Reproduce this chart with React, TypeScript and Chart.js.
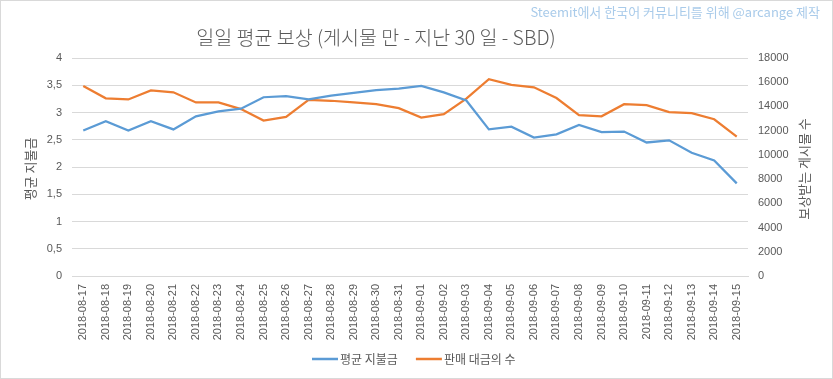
import React, { useEffect, useRef } from "react";
import { Chart, registerables } from "chart.js";

Chart.register(...registerables);

const categories = [
  "2018-08-17", "2018-08-18", "2018-08-19", "2018-08-20", "2018-08-21",
  "2018-08-22", "2018-08-23", "2018-08-24", "2018-08-25", "2018-08-26",
  "2018-08-27", "2018-08-28", "2018-08-29", "2018-08-30", "2018-08-31",
  "2018-09-01", "2018-09-02", "2018-09-03", "2018-09-04", "2018-09-05",
  "2018-09-06", "2018-09-07", "2018-09-08", "2018-09-09", "2018-09-10",
  "2018-09-11", "2018-09-12", "2018-09-13", "2018-09-14", "2018-09-15",
];

const avgPayout = [
  2.67, 2.84, 2.67, 2.84, 2.69, 2.93, 3.02, 3.07, 3.28, 3.30,
  3.24, 3.31, 3.36, 3.41, 3.44, 3.49, 3.37, 3.22, 2.69, 2.74,
  2.54, 2.60, 2.77, 2.64, 2.65, 2.45, 2.49, 2.26, 2.12, 1.70,
];

const postCount = [
  15690, 14670, 14580, 15330, 15170, 14330, 14330, 13780, 12830, 13140,
  14550, 14470, 14330, 14190, 13860, 13080, 13360, 14640, 16250, 15780,
  15580, 14690, 13280, 13190, 14190, 14110, 13530, 13440, 12940, 11500,
];

const titleText = "일일 평균 보상 (게시물 만 - 지난 30 일 - SBD)";
const watermarkText = "Steemit에서 한국어 커뮤니티를 위해 @arcange 제작";
const seriesNames = ["평균 지불금", "판매 대금의 수"];
const leftAxisTitle = "평균 지불금";
const rightAxisTitle = "보상받는 게시물 수";

const BLUE = "#5B9BD5";
const ORANGE = "#ED7D31";
const TEXT = "#595959";
const GRID = "#d9d9d9";
const FONT = "'Liberation Sans', 'Noto Sans CJK KR', sans-serif";
const KFONT = "'Noto Sans CJK KR', 'Liberation Sans', sans-serif";

const decorPlugin = {
  id: "decor",
  beforeDraw(chart: any) {
    const { ctx, width, height } = chart;
    ctx.save();
    ctx.fillStyle = "#ffffff";
    ctx.fillRect(0, 0, width, height);
    ctx.restore();
  },
  afterDraw(chart: any) {
    const { ctx, width, height, chartArea } = chart;
    ctx.save();
    ctx.strokeStyle = GRID;
    ctx.lineWidth = 1;
    ctx.strokeRect(0.5, 0.5, width - 1, height - 1);

    // title
    ctx.fillStyle = TEXT;
    ctx.font = `300 19.5px ${KFONT}`;
    ctx.textAlign = "center";
    ctx.textBaseline = "middle";
    ctx.fillText(titleText, 376, 38);

    // watermark
    ctx.fillStyle = "#A9CBEA";
    ctx.font = `13px ${KFONT}`;
    ctx.textAlign = "right";
    ctx.fillText(watermarkText, 820, 12);

    const cy = (chartArea.top + chartArea.bottom) / 2;
    ctx.fillStyle = TEXT;
    ctx.font = `13px ${KFONT}`;
    ctx.textAlign = "center";

    // left axis title
    ctx.save();
    ctx.translate(30, cy + 2);
    ctx.rotate(-Math.PI / 2);
    ctx.fillText(leftAxisTitle, 0, 0);
    ctx.restore();

    // right axis title
    ctx.save();
    ctx.translate(804, cy + 2);
    ctx.rotate(-Math.PI / 2);
    ctx.fillText(rightAxisTitle, 0, 0);
    ctx.restore();

    // legend
    const ly = 359;
    const items = chart.data.datasets.map((d: any) => ({ label: d.label, color: d.borderColor }));
    ctx.font = `12px ${KFONT}`;
    ctx.textAlign = "left";
    let x = 312;
    items.forEach((it: any) => {
      ctx.strokeStyle = it.color;
      ctx.lineWidth = 2.5;
      ctx.beginPath();
      ctx.moveTo(x, ly);
      ctx.lineTo(x + 26, ly);
      ctx.stroke();
      ctx.fillStyle = TEXT;
      ctx.fillText(it.label, x + 28, ly);
      x += 28 + ctx.measureText(it.label).width + 18;
    });
    ctx.restore();
  },
};

export default function App() {
  const ref = useRef<HTMLCanvasElement | null>(null);
  useEffect(() => {
    document.body.style.margin = "0";
    if (!ref.current) return;
    const chart = new Chart(ref.current, {
      type: "line",
      data: {
        labels: categories,
        datasets: [
          {
            label: seriesNames[0],
            data: avgPayout,
            borderColor: BLUE,
            backgroundColor: BLUE,
            borderWidth: 2.25,
            pointRadius: 0,
            tension: 0,
            yAxisID: "y",
          },
          {
            label: seriesNames[1],
            data: postCount,
            borderColor: ORANGE,
            backgroundColor: ORANGE,
            borderWidth: 2.25,
            pointRadius: 0,
            tension: 0,
            yAxisID: "y1",
          },
        ],
      },
      options: {
        animation: false,
        responsive: false,
        maintainAspectRatio: false,
        layout: { padding: { top: 58, left: 0, right: 0, bottom: 36 } },
        plugins: {
          title: { display: false },
          tooltip: { enabled: false },
          legend: { display: false },
        },
        scales: {
          x: {
            offset: true,
            grid: { display: false, drawTicks: false },
            border: { display: true, color: GRID, width: 1 },
            ticks: {
              minRotation: 90,
              maxRotation: 90,
              autoSkip: false,
              padding: 8,
              color: TEXT,
              font: { family: FONT, size: 11 },
            },
            afterFit(scale: any) {
              scale.height = 67;
            },
          },
          y: {
            position: "left",
            min: 0,
            max: 4,
            ticks: {
              stepSize: 0.5,
              padding: 10,
              color: TEXT,
              font: { family: FONT, size: 11 },
              callback: (v: any) => String(v).replace(".", ","),
            },
            grid: { color: GRID, drawTicks: false, lineWidth: 1 },
            border: { display: false },
            afterFit(scale: any) {
              scale.width = 72;
            },
          },
          y1: {
            position: "right",
            min: 0,
            max: 18000,
            ticks: {
              stepSize: 2000,
              padding: 10,
              color: TEXT,
              font: { family: FONT, size: 11 },
              callback: (v: any) => String(v),
            },
            grid: { display: false, drawTicks: false },
            border: { display: false },
            afterFit(scale: any) {
              scale.width = 85;
            },
          },
        },
      },
      plugins: [decorPlugin],
    });
    return () => chart.destroy();
  }, []);
  return (
    <div style={{ position: "absolute", left: 0, top: 0, width: 833, height: 379 }}>
      <canvas ref={ref} width={833} height={379} style={{ width: 833, height: 379, display: "block" }} />
    </div>
  );
}
